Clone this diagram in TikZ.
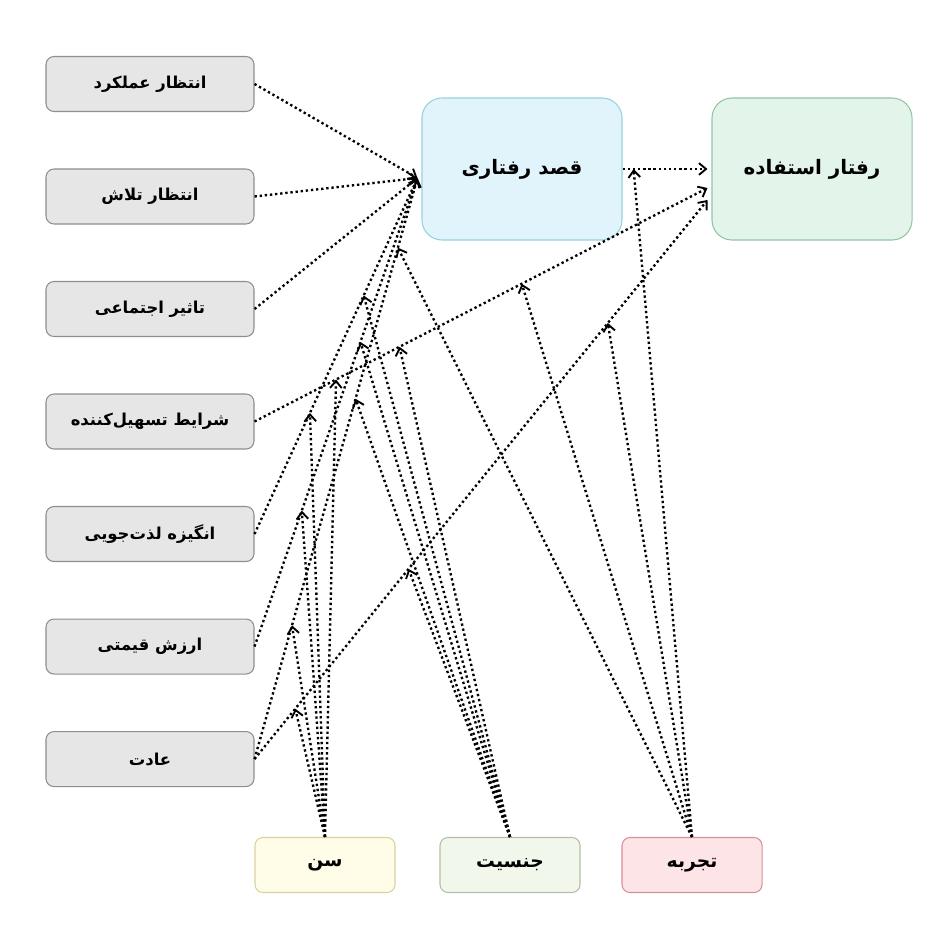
\documentclass[tikz,border=0pt]{standalone}
\usepackage{fontspec}
\usepackage{xcolor}
\usepackage{tikz}
\usetikzlibrary{shapes,arrows,positioning,calc,arrows.meta}
\TeXXeTstate=1
\newfontfamily\farsifont[Script=Arabic]{DejaVu Sans}
\newcommand{\fa}[1]{\farsifont\bfseries\beginR #1\endR}

\definecolor{grayfill}{HTML}{E6E6E6}
\definecolor{graydraw}{HTML}{8E8E8E}
\definecolor{bifill}{HTML}{E1F4FC}
\definecolor{bidraw}{HTML}{98D0DE}
\definecolor{ubfill}{HTML}{E3F4EA}
\definecolor{ubdraw}{HTML}{92C4A4}
\definecolor{agefill}{HTML}{FFFDE8}
\definecolor{agedraw}{HTML}{D8D39C}
\definecolor{genderfill}{HTML}{F1F7EA}
\definecolor{genderdraw}{HTML}{B4BDA8}
\definecolor{expfill}{HTML}{FCE4E7}
\definecolor{expdraw}{HTML}{D98F98}

\tikzset{
  factor/.style={draw=graydraw, fill=grayfill, rounded corners=0.24cm, line width=0.9pt,
    minimum width=6.24cm, minimum height=1.65cm, font=\fontsize{14}{16}\selectfont},
  mainbox/.style={rounded corners=0.6cm, line width=0.9pt,
    minimum width=6cm, minimum height=4.26cm, font=\fontsize{17}{20}\selectfont},
  moderator/.style={rounded corners=0.24cm, line width=0.9pt,
    minimum width=4.2cm, minimum height=1.65cm, font=\fontsize{16}{18}\selectfont},
  link/.style={line width=2pt, dash pattern=on 2pt off 2.4pt,
    -{Straight Barb[length=6pt, width=10pt, line width=1.6pt]}},
}

\begin{document}
\begin{tikzpicture}[x=0.03cm, y=-0.03cm, node distance=3.375cm]
    \useasboundingbox (0,0) rectangle (933,933);

    \node (pe) [factor] at (150,84) {\fa{انتظار عملکرد}};
    \node (ee) [factor, below of=pe] {\fa{انتظار تلاش}};
    \node (si) [factor, below of=ee] {\fa{تاثیر اجتماعی}};
    \node (fc) [factor, below of=si] {\fa{شرایط تسهیل‌کننده}};
    \node (hm) [factor, below of=fc] {\fa{انگیزه لذت‌جویی}};
    \node (pv) [factor, below of=hm] {\fa{ارزش قیمتی}};
    \node (ht) [factor, below of=pv] {\fa{عادت}};

    \node (bi) [mainbox, draw=bidraw, fill=bifill] at (522,169) {\fa{قصد رفتاری}};
    \node (ub) [mainbox, draw=ubdraw, fill=ubfill, right of=bi, xshift=5.325cm] {\fa{رفتار استفاده}};

    \node (age) [moderator, draw=agedraw, fill=agefill] at (325,865) {\fa{سن}};
    \node (gender) [moderator, draw=genderdraw, fill=genderfill, right of=age, xshift=2.175cm] {\fa{جنسیت}};
    \node (exp) [moderator, draw=expdraw, fill=expfill, right of=gender, xshift=2.085cm] {\fa{تجربه}};

    % end points at the two main boxes
    \coordinate (bin) at ($(bi.west)+(-4,9)$);
    \coordinate (ubin) at ($(ub.west)+(-4,0)$);
    \coordinate (ubfc) at ($(ub.west)+(-4,19)$);
    \coordinate (ubht) at ($(ub.west)+(-4,31)$);

    % main paths
    \draw[link] (pe.east) -- (bin);
    \draw[link] (ee.east) -- (bin);
    \draw[link] (si.east) -- (bin);
    \draw[link] (hm.east) -- node[pos=0.34, coordinate] (hm1) {} node[pos=0.67, coordinate] (hm2) {} (bin);
    \draw[link] (pv.east) -- node[pos=0.29, coordinate] (pv1) {} node[pos=0.65, coordinate] (pv2) {} (bin);
    \draw[link] (ht.east) -- node[pos=0.23, coordinate] (ht1) {} node[pos=0.62, coordinate] (ht2) {} node[pos=0.88, coordinate] (ht3) {} (bin);
    \draw[link] (fc.east) -- node[pos=0.18, coordinate] (fc1) {} node[pos=0.32, coordinate] (fc2) {} node[pos=0.59, coordinate] (fc3) {} (ubfc);
    \draw[link] (ht.east) -- node[pos=0.09, coordinate] (htu1) {} node[pos=0.34, coordinate] (htu2) {} node[pos=0.78, coordinate] (htu3) {} (ubht);
    \draw[link] (bi.east) -- node[pos=0.13, coordinate] (biub) {} (ubin);

    % moderators
    \draw[link] (age.north) -- (hm1);
    \draw[link] (age.north) -- (pv1);
    \draw[link] (age.north) -- (ht1);
    \draw[link] (age.north) -- (fc1);
    \draw[link] (age.north) -- (htu1);

    \draw[link] (gender.north) -- (hm2);
    \draw[link] (gender.north) -- (pv2);
    \draw[link] (gender.north) -- (ht2);
    \draw[link] (gender.north) -- (fc2);
    \draw[link] (gender.north) -- (htu2);

    \draw[link] (exp.north) -- (ht3);
    \draw[link] (exp.north) -- (fc3);
    \draw[link] (exp.north) -- (htu3);
    \draw[link] (exp.north) -- (biub);

\end{tikzpicture}
\end{document}
